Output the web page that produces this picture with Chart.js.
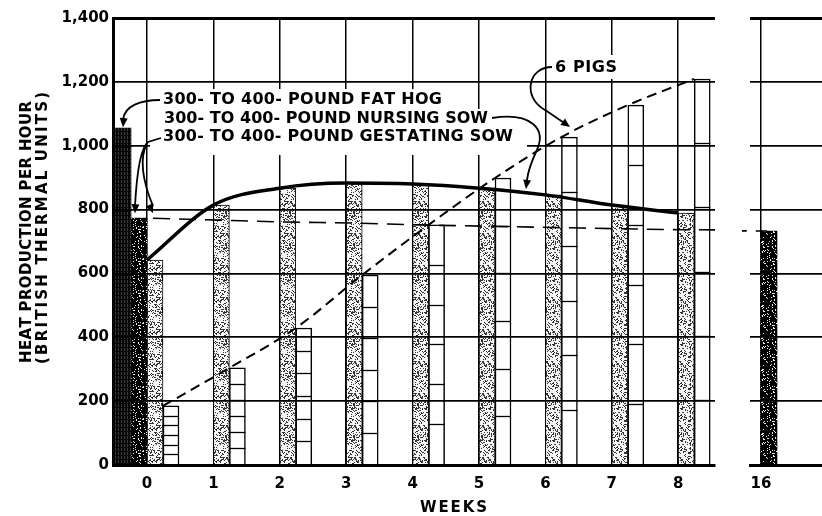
<!DOCTYPE html>
<html>
<head>
<meta charset="utf-8">
<script src="https://cdn.jsdelivr.net/npm/chart.js@4.4.1/dist/chart.umd.min.js"></script>
<style>
  body { margin: 0; background: #fff; }
  canvas { position: absolute; top: 0; }
  #left { left: 0; }
  #right { left: 730px; }
</style>
</head>
<body>
<canvas id="left" width="730" height="516"></canvas>
<canvas id="right" width="92" height="516"></canvas>
<script>
// Heat production per hour (BTU) by week
const weeks = [0, 1, 2, 3, 4, 5, 6, 7, 8];
const nursingSow = [642, 814, 867, 883, 880, 867, 846, 814, 789];
const sixPigs = [185, 304, 429, 595, 752, 899, 1027, 1127, 1209];
const fatHogWeek = [0];
const fatHog = [1055];
const gestWeeks = [0, 1, 2, 3, 4, 5, 6, 7, 8, 16];
const gestatingSow = [773, 767, 761, 758, 752, 748, 744, 740, 737, 733];
const gestBarWeeks = [0, 16];
const yTicks = [0, 200, 400, 600, 800, 1000, 1200, 1400];

const FONT = '"DejaVu Sans", sans-serif';
const WEEK_PX = 66.4;
const BAR = 16;
const off = px => px / WEEK_PX;

function hash(i, j, seed) {
    let h = Math.imul(i, 374761393) + Math.imul(j, 668265263) + seed;
    h = Math.imul(h ^ (h >>> 13), 1274126177);
    return ((h ^ (h >>> 16)) >>> 0) % 100;
}

function stipple(base, dot, density, seed) {
    const c = document.createElement('canvas');
    c.width = c.height = 32;
    const g = c.getContext('2d');
    g.fillStyle = base;
    g.fillRect(0, 0, 32, 32);
    g.fillStyle = dot;
    for (let i = 0; i < 32; i++)
        for (let j = 0; j < 32; j++)
            if (hash(i, j, seed) < density) g.fillRect(i, j, 1, 1);
    return g.createPattern(c, 'repeat');
}

function stripes() {
    const c = document.createElement('canvas');
    c.width = 3; c.height = 4;
    const g = c.getContext('2d');
    g.fillStyle = '#050505';
    g.fillRect(0, 0, 3, 4);
    g.fillStyle = '#3c3c3c';
    g.fillRect(1, 0, 1, 3);
    return g.createPattern(c, 'repeat');
}

const nursingFill = stipple('#f6f6f6', '#333', 30, 7);
const gestFill = stipple('#000', '#e8e8e8', 13, 19);
const hogFill = stripes();

function pts(xs, ys, dx) {
    return xs.map((w, i) => ({ x: w + dx, y: ys[i] }));
}

function drawSpaced(ctx, text, x, y, width) {
    // spreads letters over a given width, starting at x
    const chars = [...text];
    const natural = chars.reduce((s, ch) => s + ctx.measureText(ch).width, 0);
    const gap = chars.length > 1 ? (width - natural) / (chars.length - 1) : 0;
    let cx = x;
    chars.forEach(ch => {
        ctx.fillText(ch, cx, y);
        cx += ctx.measureText(ch).width + gap;
    });
}

function arrowHead(ctx, x, y, ang) {
    ctx.save();
    ctx.translate(x, y);
    ctx.rotate(ang);
    ctx.beginPath();
    ctx.moveTo(0, 0);
    ctx.lineTo(-9, -4);
    ctx.lineTo(-9, 4);
    ctx.closePath();
    ctx.fill();
    ctx.restore();
}

const pigDividers = {
    id: 'pigDividers',
    afterDatasetsDraw(chart) {
        const ctx = chart.ctx;
        chart.data.datasets.forEach((ds, i) => {
            if (!ds.sixParts) return;
            chart.getDatasetMeta(i).data.forEach(bar => {
                const h = bar.base - bar.y;
                ctx.save();
                ctx.strokeStyle = '#000';
                ctx.lineWidth = 1.3;
                for (let k = 1; k < 6; k++) {
                    const yy = Math.round(bar.y + h * k / 6) + 0.5;
                    ctx.beginPath();
                    ctx.moveTo(bar.x - bar.width / 2, yy);
                    ctx.lineTo(bar.x + bar.width / 2, yy);
                    ctx.stroke();
                }
                ctx.restore();
            });
        });
    }
};

const annotations = {
    id: 'annotations',
    afterDraw(chart) {
        const ctx = chart.ctx;
        const xs = chart.scales.x, ys = chart.scales.y;
        ctx.save();

        // white patches behind the lettering
        ctx.fillStyle = '#fff';
        ctx.fillRect(150, 89, 305, 20);
        ctx.fillRect(150, 109, 350, 19);
        ctx.fillRect(150, 128, 377, 27);
        ctx.fillRect(549, 55, 74, 24);

        ctx.fillStyle = '#000';
        ctx.textBaseline = 'middle';
        ctx.font = 'bold 16px ' + FONT;
        drawSpaced(ctx, '300- TO 400- POUND FAT HOG', 163, 100, 279);
        drawSpaced(ctx, '300- TO 400- POUND NURSING SOW', 164, 118.5, 324);
        drawSpaced(ctx, '300- TO 400- POUND GESTATING SOW', 163, 137, 350);
        drawSpaced(ctx, '6 PIGS', 555, 68, 62);

        ctx.font = 'bold 15px ' + FONT;
        drawSpaced(ctx, 'WEEKS', 420, 508, 67);

        ctx.save();
        ctx.translate(27, 232);
        ctx.rotate(-Math.PI / 2);
        drawSpaced(ctx, 'HEAT PRODUCTION PER HOUR', -131, 0, 262);
        ctx.restore();
        ctx.save();
        ctx.translate(43, 228);
        ctx.rotate(-Math.PI / 2);
        drawSpaced(ctx, '(BRITISH THERMAL UNITS)', -136, 0, 272);
        ctx.restore();

        // leader arrows
        ctx.strokeStyle = '#000';
        ctx.lineWidth = 1.8;
        const hogX = xs.getPixelForValue(fatHogWeek[0] + off(-25));
        const hogY = ys.getPixelForValue(fatHog[0]);
        ctx.beginPath();
        ctx.moveTo(160, 100);
        ctx.bezierCurveTo(140, 100, hogX + 3, 106, hogX + 1, hogY - 9);
        ctx.stroke();
        arrowHead(ctx, hogX + 1, hogY - 1, Math.PI / 2 + 0.08);

        const gBarX = xs.getPixelForValue(gestBarWeeks[0] + off(-12));
        const gY = ys.getPixelForValue(gestatingSow[0]);
        const gLineX = xs.getPixelForValue(gestWeeks[0] + off(6));
        ctx.beginPath();
        ctx.moveTo(161, 138);
        ctx.lineTo(148, 142);
        ctx.quadraticCurveTo(138, 150, gBarX, gY - 12);
        ctx.moveTo(147, 143);
        ctx.quadraticCurveTo(136, 165, gLineX, gY - 12);
        ctx.stroke();
        arrowHead(ctx, gBarX, gY - 5, Math.PI / 2 + 0.05);
        arrowHead(ctx, gLineX, gY - 5, Math.PI / 2 - 0.4);

        ctx.beginPath();
        ctx.moveTo(492, 118);
        ctx.bezierCurveTo(530, 112, 548, 128, 536, 152);
        ctx.bezierCurveTo(530, 165, 528, 172, 527, 180);
        ctx.stroke();
        arrowHead(ctx, 526, 189, Math.PI / 2 + 0.12);

        ctx.beginPath();
        ctx.moveTo(552, 67);
        ctx.bezierCurveTo(528, 67, 522, 97, 545, 110);
        ctx.bezierCurveTo(553, 115, 558, 119, 563, 122);
        ctx.stroke();
        arrowHead(ctx, 570, 127, 0.62);

        ctx.restore();
    }
};

const gridY = {
    color: '#000',
    lineWidth: c => c.tick && c.tick.value === 1400 ? 3 : 1.8,
    drawTicks: false,
    z: 1
};

const tickFont = { family: FONT, size: 15, weight: 'bold' };

new Chart(document.getElementById('left'), {
    type: 'bar',
    data: {
        datasets: [
            {
                type: 'line', data: pts(weeks, nursingSow, 0),
                borderColor: '#000', borderWidth: 3.5, pointRadius: 0,
                cubicInterpolationMode: 'monotone', order: 1
            },
            {
                type: 'line', data: pts(weeks, sixPigs, off(BAR)),
                borderColor: '#000', borderWidth: 2, borderDash: [10, 6], pointRadius: 0,
                cubicInterpolationMode: 'monotone', order: 1
            },
            {
                type: 'line', data: pts(gestWeeks, gestatingSow, off(6)),
                borderColor: '#000', borderWidth: 1.6, borderDash: [17, 9], pointRadius: 0,
                cubicInterpolationMode: 'monotone', order: 1
            },
            {
                data: pts(fatHogWeek, fatHog, off(-25)),
                backgroundColor: hogFill, barThickness: 18, order: 2
            },
            {
                data: pts(gestBarWeeks.slice(0, 1), [gestatingSow[0]], off(-8)),
                backgroundColor: gestFill, barThickness: BAR, order: 2
            },
            {
                data: pts(weeks, nursingSow, off(8)),
                backgroundColor: nursingFill, borderColor: '#000', borderWidth: 1,
                barThickness: BAR, order: 2
            },
            {
                data: pts(weeks, sixPigs, off(24)), sixParts: true,
                backgroundColor: '#fff', borderColor: '#000', borderWidth: 1.5,
                barThickness: BAR, order: 2
            }
        ]
    },
    options: {
        responsive: false,
        animation: false,
        layout: { padding: { top: 18, right: 15 } },
        datasets: { bar: { grouped: false } },
        plugins: { legend: { display: false }, tooltip: { enabled: false } },
        scales: {
            x: {
                type: 'linear', min: -0.512, max: 8.554, offset: false,
                afterBuildTicks: s => { s.ticks = weeks.map(v => ({ value: v })); },
                afterFit: s => { s.height = 51; },
                grid: { color: '#000', lineWidth: 1.5, drawTicks: false, offset: false },
                border: { color: '#000', width: 3 },
                ticks: { color: '#000', font: tickFont, padding: 10 }
            },
            y: {
                min: 0, max: 1400,
                afterBuildTicks: s => { s.ticks = yTicks.map(v => ({ value: v })); },
                afterFit: s => { s.width = 113; },
                grid: gridY,
                border: { color: '#000', width: 3, z: 1 },
                ticks: {
                    color: '#000', font: tickFont, padding: 4,
                    callback: v => v.toLocaleString('en-US')
                }
            }
        }
    },
    plugins: [pigDividers, annotations]
});

// broken-axis panel for week 16
new Chart(document.getElementById('right'), {
    type: 'bar',
    data: {
        datasets: [
            {
                type: 'line', data: pts(gestWeeks, gestatingSow, off(6)),
                borderColor: '#000', borderWidth: 1.6, borderDash: [17, 9], pointRadius: 0,
                clip: { left: 8, top: 0, right: 0, bottom: 0 }, order: 1
            },
            {
                data: pts(gestBarWeeks.slice(1), [gestatingSow[gestatingSow.length - 1]], off(8)),
                backgroundColor: gestFill, barThickness: BAR, order: 2
            }
        ]
    },
    options: {
        responsive: false,
        animation: false,
        layout: { padding: { top: 18 } },
        datasets: { bar: { grouped: false } },
        plugins: { legend: { display: false }, tooltip: { enabled: false } },
        scales: {
            x: {
                type: 'linear', min: 16 - off(11), max: 16 - off(11) + off(72), offset: false,
                afterBuildTicks: s => { s.ticks = [{ value: 16 }]; },
                afterFit: s => { s.height = 51; },
                grid: { color: '#000', lineWidth: 1.5, drawTicks: false, offset: false },
                border: { color: '#000', width: 3 },
                ticks: { color: '#000', font: tickFont, padding: 10 }
            },
            y: {
                min: 0, max: 1400,
                afterBuildTicks: s => { s.ticks = yTicks.map(v => ({ value: v })); },
                afterFit: s => { s.width = 20; },
                grid: gridY,
                border: { display: false },
                ticks: { display: false }
            }
        }
    }
});
</script>
</body>
</html>
